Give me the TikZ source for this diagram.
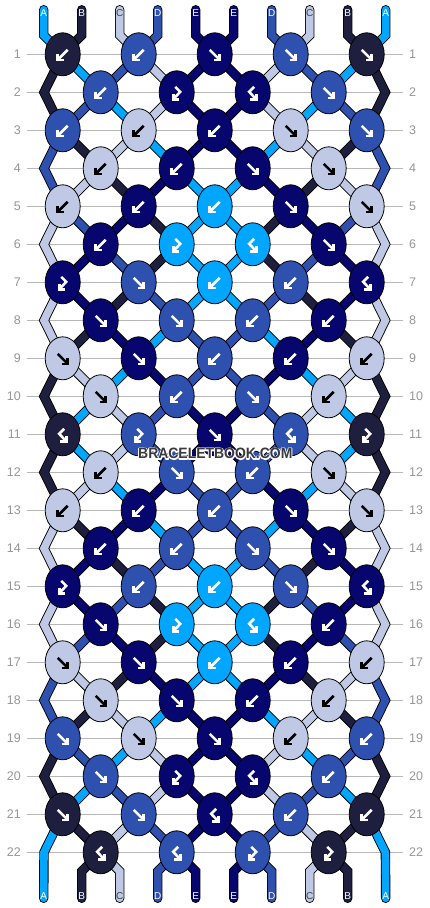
\documentclass[tikz,border=0pt]{standalone}
\usepackage{fontspec}
\setmainfont{Liberation Sans}
\usetikzlibrary{shapes.geometric}
\definecolor{sA}{RGB}{0,166,255}
\definecolor{sB}{RGB}{30,31,62}
\definecolor{sC}{RGB}{191,201,230}
\definecolor{sD}{RGB}{46,80,174}
\definecolor{sE}{RGB}{6,6,110}
\colorlet{aA}{white}\colorlet{aB}{white}\colorlet{aC}{black}\colorlet{aD}{white}\colorlet{aE}{white}
\colorlet{tA}{white}\colorlet{tB}{white}\colorlet{tC}{black!75}\colorlet{tD}{white}\colorlet{tE}{white}
\definecolor{gridc}{RGB}{184,184,184}
\definecolor{numc}{RGB}{150,150,150}
\definecolor{wmc}{RGB}{58,58,62}
\newcommand\wmword{\scalebox{0.93}[1]{BRACELETBOOK.COM}}
\newcommand\wmhalo{%
  \special{pdf:literal direct 1 Tr 1 1 1 RG 2.2 w 1 j}%
  \rlap{\wmword}%
  \special{pdf:literal direct 0 Tr}%
  \wmword}
\tikzset{
  strand/.style={draw=black, line width=0.9pt, double distance=7.6pt, line join=miter, line cap=round},
  knot/.style={ellipse, draw=black, line width=0.8pt, minimum width=35pt, minimum height=43pt, inner sep=0pt},
  arrowline/.style={line width=2.6pt, line cap=butt, line join=miter},
  rownum/.style={text=numc, font=\fontsize{12.5}{14}\selectfont, inner sep=0pt},
  strlabel/.style={font=\fontsize{10}{12}\selectfont, inner sep=0pt},
  gridline/.style={draw=gridc, line width=1pt},
  arrb/.pic={\draw[arrowline] (5,-4.5) -- (-5,5.5); \draw[arrowline] (-5,-0.5) -- (-5,5.5) -- (1,5.5);},
  arrf/.pic={\draw[arrowline] (-5,-4.5) -- (5,5.5); \draw[arrowline] (5,-0.5) -- (5,5.5) -- (-1,5.5);},
  arrbf/.pic={\draw[arrowline] (-1.5,-5.5) -- (3.5,-0.5) -- (-3.5,7); \draw[arrowline] (-3.5,1.5) -- (-3.5,7) -- (2.5,7);},
  arrfb/.pic={\draw[arrowline] (1.5,-5.5) -- (-3.5,-0.5) -- (3.5,7); \draw[arrowline] (3.5,1.5) -- (3.5,7) -- (-2.5,7);},
}
\begin{document}
\begin{tikzpicture}[x=1pt,y=-1pt]
\useasboundingbox (0,0) rectangle (430,908);
\fill[white] (0,0) rectangle (430,908);
% grid lines and row numbers
\foreach \r in {1,...,22} {
  \pgfmathsetmacro\yy{54.3+38*(\r-1)}
  \coordinate (gl-\r) at (26.7,\yy);
  \coordinate (gr-\r) at (403.3,\yy);
  \draw[gridline] (gl-\r) -- (gr-\r);
  \node[rownum, anchor=east] (ln-\r) at (21,\yy) {\r};
  \node[rownum, anchor=west] (rn-\r) at (409,\yy) {\r};
}
% string positions
\foreach \r in {1,...,22} {
  \pgfmathsetmacro\yy{54.3+38*(\r-1)}
  \foreach \i in {0,...,9} {
    \pgfmathsetmacro\xx{isodd(\r) ? 62.7+76*floor(\i/2) : (\i==0 ? 44 : (\i==9 ? 385.4 : 100.7+76*floor((\i-1)/2)))}
    \coordinate (p-\r-\i) at (\xx,\yy);
  }
}
\foreach \i in {0,...,9} {
  \pgfmathsetmacro\xx{43.7+38*\i}
  \coordinate (t-\i) at (\xx,9.75);
  \coordinate (tb-\i) at (\xx,35.3);
  \coordinate (bb-\i) at (\xx,871.3);
  \coordinate (b-\i) at (\xx,898.3);
}
% strings
\foreach \r/\cols in {
 0/{A,B,C,D,E,E,D,C,B,A},
 1/{B,A,D,C,E,E,C,D,A,B},
 2/{B,D,A,C,E,E,C,A,D,B},
 3/{D,B,C,A,E,E,A,C,B,D},
 4/{D,C,B,E,A,A,E,B,C,D},
 5/{C,D,E,B,A,A,B,E,D,C},
 6/{C,E,D,B,A,A,B,D,E,C},
 7/{C,E,B,D,A,A,D,B,E,C},
 8/{C,B,E,A,D,D,A,E,B,C},
 9/{B,C,A,E,D,D,E,A,C,B},
 10/{B,A,C,D,E,E,D,C,A,B},
 11/{B,A,C,D,E,E,D,C,A,B},
 12/{B,C,A,E,D,D,E,A,C,B},
 13/{C,B,E,A,D,D,A,E,B,C},
 14/{C,E,B,D,A,A,D,B,E,C},
 15/{C,E,D,B,A,A,B,D,E,C},
 16/{C,D,E,B,A,A,B,E,D,C},
 17/{D,C,B,E,A,A,E,B,C,D},
 18/{D,B,C,A,E,E,A,C,B,D},
 19/{B,D,A,C,E,E,C,A,D,B},
 20/{B,A,D,C,E,E,C,D,A,B},
 21/{A,B,C,D,E,E,D,C,B,A},
 22/{A,B,C,D,E,E,D,C,B,A}} {
  \foreach \c [count=\j from 0] in \cols {
    \pgfmathtruncatemacro\rn{\r+1}
    \pgfmathtruncatemacro\rnn{\r+2}
    \pgfmathtruncatemacro\isedge{or(\j==0,\j==9)}
    \pgfmathtruncatemacro\odd{isodd(\r)}
    \ifnum\r=0
      \draw[strand, double=s\c] (t-\j) -- (tb-\j) -- (p-1-\j);
    \else\ifnum\r=22
      \ifnum\isedge=0
        \draw[strand, double=s\c] (p-22-\j) -- (bb-\j) -- (b-\j);
      \fi
    \else
      \ifnum\isedge=1
        \ifnum\odd=1
          \ifnum\r=21
            \draw[strand, double=s\c] (p-21-\j) -- (p-22-\j) -- (b-\j);
          \else
            \draw[strand, double=s\c] (p-\r-\j) -- (p-\rn-\j) -- (p-\rnn-\j);
          \fi
        \fi
      \else
        \draw[strand, double=s\c] (p-\r-\j) -- (p-\rn-\j);
      \fi
    \fi\fi
  }
}
% knots
\foreach \r/\knots in {
 1/{B/b,D/b,E/f,D/f,B/f},
 2/{D/b,E/bf,E/fb,D/f},
 3/{D/b,C/b,E/b,C/f,D/f},
 4/{C/b,E/b,E/f,C/f},
 5/{C/b,E/b,A/b,E/f,C/f},
 6/{E/b,A/bf,A/fb,E/f},
 7/{E/bf,D/f,A/b,D/b,E/fb},
 8/{E/f,D/f,D/b,E/b},
 9/{C/f,E/f,D/b,E/b,C/b},
 10/{C/f,D/b,D/f,C/b},
 11/{B/fb,D/bf,E/f,D/fb,B/bf},
 12/{C/b,D/f,D/b,C/f},
 13/{C/b,E/b,D/b,E/f,C/f},
 14/{E/b,D/b,D/f,E/f},
 15/{E/bf,D/b,A/b,D/f,E/fb},
 16/{E/f,A/bf,A/fb,E/b},
 17/{C/f,E/f,A/b,E/b,C/b},
 18/{C/f,E/f,E/b,C/b},
 19/{D/f,C/f,E/f,C/b,D/b},
 20/{D/f,E/bf,E/fb,D/b},
 21/{B/f,D/f,E/fb,D/b,B/b},
 22/{B/fb,D/fb,D/bf,B/bf}} {
  \foreach \c/\t [count=\k from 0] in \knots {
    \pgfmathtruncatemacro\pp{isodd(\r) ? 2*\k : 2*\k+1}
    \node[knot, fill=s\c] (k-\r-\k) at (p-\r-\pp) {};
    \pic[color=a\c] at (k-\r-\k) {arr\t};
  }
}
% watermark
\node[text=wmc, font=\bfseries\fontsize{15}{16}\selectfont, inner sep=0pt] (wm) at (215.3,453.7) {\wmhalo};
% string labels
\foreach \c [count=\j from 0] in {A,B,C,D,E,E,D,C,B,A} {
  \pgfmathsetmacro\xx{43.7+38*\j}
  \node[strlabel, text=t\c] (lt-\j) at (\xx,12.7) {\c};
  \node[strlabel, text=t\c] (lb-\j) at (\xx,895.7) {\c};
}
\end{tikzpicture}
\end{document}
